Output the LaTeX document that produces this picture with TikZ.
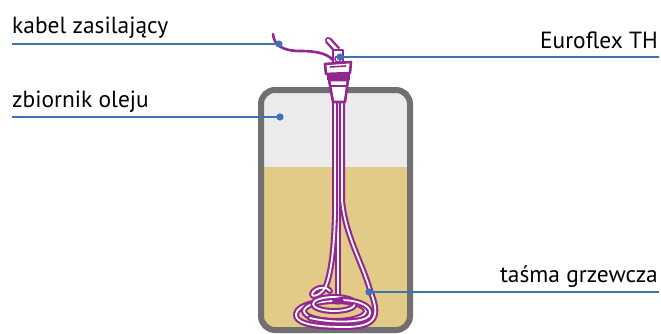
\documentclass[tikz,border=0pt]{standalone}
\usepackage{fontspec}
\setmainfont{PT Sans}
\definecolor{heat}{HTML}{92278F}
\definecolor{wall}{HTML}{707070}
\definecolor{airc}{HTML}{EBEBEB}
\definecolor{oilc}{HTML}{E2CB87}
\definecolor{leader}{HTML}{3F72B3}
\begin{document}
\begin{tikzpicture}[x=1bp,y=-1bp,
  label/.style={font=\fontsize{23.5}{27}\selectfont, text=black, inner sep=0pt},
  leadline/.style={draw=leader, line width=2bp},
  leaddot/.style={fill=leader},
  tube/.style={draw=white, line width=1.8bp, line cap=round, line join=round,
    preaction={draw=heat, line width=6bp, line cap=round, line join=round}},
  headpart/.style={draw=heat, line width=2.6bp, fill=white, line join=round},
  headband/.style={fill=heat},
  wire/.style={draw=heat, line width=2.6bp, line cap=round}]
\useasboundingbox (0,0) rectangle (661,333);

% tank: air space, oil, wall
\fill[airc, rounded corners=14bp] (261,90) rectangle (410,330);
\begin{scope}
  \clip[rounded corners=14bp] (261,90) rectangle (410,330);
  \fill[oilc] (250,167) rectangle (420,340);
\end{scope}
\draw[draw=wall, line width=6bp, rounded corners=14bp] (261,90) rectangle (410,330);

% power cable
\draw[wire] (273,34) .. controls (274,46) and (284,51) .. (300,51)
  .. controls (318,51) and (330,54) .. (335,63);

% heating tape: central rod and two arms
\draw[tube] (338,100) -- (338,300);
\draw[tube] (335,100) -- (335,215) .. controls (334,250) and (331,275) .. (325,288)
  .. controls (319,297) and (309,298) .. (313,292) .. controls (318,286) and (328,287) .. (330,291);
\draw[tube] (342,100) -- (342,200) .. controls (345,235) and (362,262) .. (370,290)
  .. controls (380,315) and (378,327) .. (345,327)
  .. controls (308,327) and (295,322) .. (296,314)
  .. controls (297,304) and (322,300) .. (340,300);
% coil loops
\draw[tube] (335,311) ellipse [x radius=31, y radius=10];
\draw[tube] (334,304) ellipse [x radius=21, y radius=7];
\draw[tube] (340,300) .. controls (362,300) and (374,308) .. (369,316)
  .. controls (364,323) and (330,323) .. (310,318);
\fill[heat] (338,301) ellipse [x radius=6, y radius=3.5];

% Euroflex TH head
\draw[tube, line width=2.8bp, preaction={draw=heat, line width=7.5bp}] (328,40) -- (337,50);
\draw[headpart] (333,50) rectangle (343,63);
\draw[heat, line width=1.4bp] (338,59) circle [radius=3];
\draw[headpart] (325,64) -- (351,62) -- (350,73) -- (326,74) -- cycle;
\draw[heat, line width=1.6bp] (330,67) -- (346,66);
\fill[headband] (327,73) rectangle (350,80);
\draw[headpart] (329,80) -- (348,80) -- (345,102) -- (333,102) -- cycle;
\draw[heat, line width=2bp] (330,86) -- (347,86);

% leader lines with labels
\coordinate (cabledot) at (279,44);
\coordinate (tankdot) at (280,117);
\coordinate (headdot) at (340,57);
\coordinate (tapedot) at (369,292);
\coordinate (cableend) at (12,44);
\coordinate (tankend) at (12,117);
\coordinate (headend) at (659,57);
\coordinate (tapeend) at (659,292);
\node[label, anchor=base west] (cablelbl) at (12,33) {kabel zasilający};
\node[label, anchor=base west] (tanklbl) at (12,107) {zbiornik oleju};
\node[label, anchor=base east] (headlbl) at (658,48) {Euroflex TH};
\node[label, anchor=base east] (tapelbl) at (658,282) {taśma grzewcza};
\draw[leadline] (cableend) -- (cabledot);
\draw[leadline] (tankend) -- (tankdot);
\draw[leadline] (headdot) -- (headend);
\draw[leadline] (tapedot) -- (tapeend);
\foreach \d in {cabledot,tankdot,headdot,tapedot}
  \fill[leaddot] (\d) circle [radius=3.6];
\end{tikzpicture}
\end{document}
